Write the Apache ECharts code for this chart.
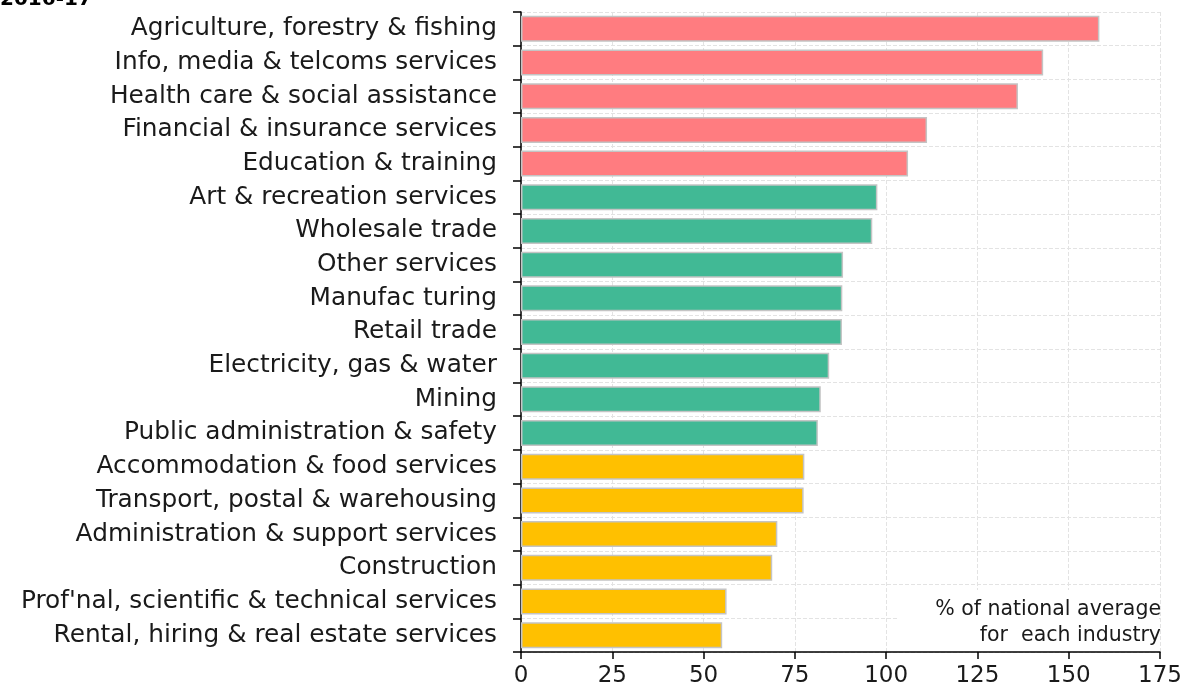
<!DOCTYPE html>
<html>
<head>
<meta charset="utf-8">
<script src="https://cdn.jsdelivr.net/npm/echarts@6/dist/echarts.min.js"></script>
<style>
html,body{margin:0;padding:0;background:#fff;}
#chart{width:1189px;height:699px;}
</style>
</head>
<body>
<div id="chart"></div>
<script>
const categories = [
  "Agriculture, forestry & fishing",
  "Info, media & telcoms services",
  "Health care & social assistance",
  "Financial & insurance services",
  "Education & training",
  "Art & recreation services",
  "Wholesale trade",
  "Other services",
  "Manufac turing",
  "Retail trade",
  "Electricity, gas & water",
  "Mining",
  "Public administration & safety",
  "Accommodation & food services",
  "Transport, postal & warehousing",
  "Administration & support services",
  "Construction",
  "Prof'nal, scientific & technical services",
  "Rental, hiring & real estate services"
];
const values = [158.4, 143.0, 136.1, 111.2, 106.0, 97.6, 96.2, 88.2, 88.0, 87.9, 84.4, 82.1, 81.3, 77.6, 77.4, 70.2, 68.8, 56.3, 55.1];
const groups = ["high","high","high","high","high","mid","mid","mid","mid","mid","mid","mid","mid","low","low","low","low","low","low"];
const groupColors = {high: "#FF7C80", mid: "#41B995", low: "#FFC000"};
const xTicks = [0, 25, 50, 75, 100, 125, 150, 175];
const titleText = "2016-17";
const noteLines = ["% of national average", "for  each industry"];

const FONT = "DejaVu Sans";
const chart = echarts.init(document.getElementById('chart'), null, {renderer: 'canvas'});

chart.setOption({
  animation: false,
  backgroundColor: '#fff',
  grid: {left: 521, right: 29, top: 12, bottom: 47, containLabel: false},
  xAxis: {
    type: 'value',
    min: xTicks[0],
    max: xTicks[xTicks.length - 1],
    interval: xTicks[1] - xTicks[0],
    axisLine: {show: true, lineStyle: {color: '#000', width: 1.5}},
    axisTick: {show: true, length: 7, lineStyle: {color: '#000', width: 1.5}},
    axisLabel: {color: '#1a1a1a', fontFamily: FONT, fontSize: 23, margin: 13},
    splitLine: {show: true, lineStyle: {color: '#e3e3e3', type: 'dashed', width: 1}}
  },
  yAxis: {
    type: 'category',
    data: categories,
    inverse: true,
    axisLine: {show: true, lineStyle: {color: '#000', width: 1.5}},
    axisTick: {show: true, length: 8, lineStyle: {color: '#000', width: 1.5}},
    axisLabel: {color: '#1a1a1a', fontFamily: FONT, fontSize: 24.8, margin: 24},
    splitLine: {show: true, lineStyle: {color: '#e3e3e3', type: 'dashed', width: 1}}
  },
  series: [{
    type: 'bar',
    barWidth: 26,
    data: values.map((v, i) => ({
      value: v,
      itemStyle: {color: groupColors[groups[i]], borderColor: '#c4c4c4', borderWidth: 1.5}
    }))
  }],
  graphic: [
    {type: 'text', x: 0, y: -10, style: {text: titleText, font: 'bold 20px "' + FONT + '"', fill: '#000'}},
    {type: 'rect', shape: {x: 898, y: 590, width: 261, height: 61}, style: {fill: '#fff'}, z: 10},
    {type: 'text', x: 1161, y: 610, z: 11,
      style: {text: noteLines[0], font: '20.5px "' + FONT + '"', fill: '#1a1a1a', align: 'right', verticalAlign: 'middle'}},
    {type: 'text', x: 1161, y: 636, z: 11,
      style: {text: noteLines[1], font: '20.5px "' + FONT + '"', fill: '#1a1a1a', align: 'right', verticalAlign: 'middle'}}
  ]
});
</script>
</body>
</html>
